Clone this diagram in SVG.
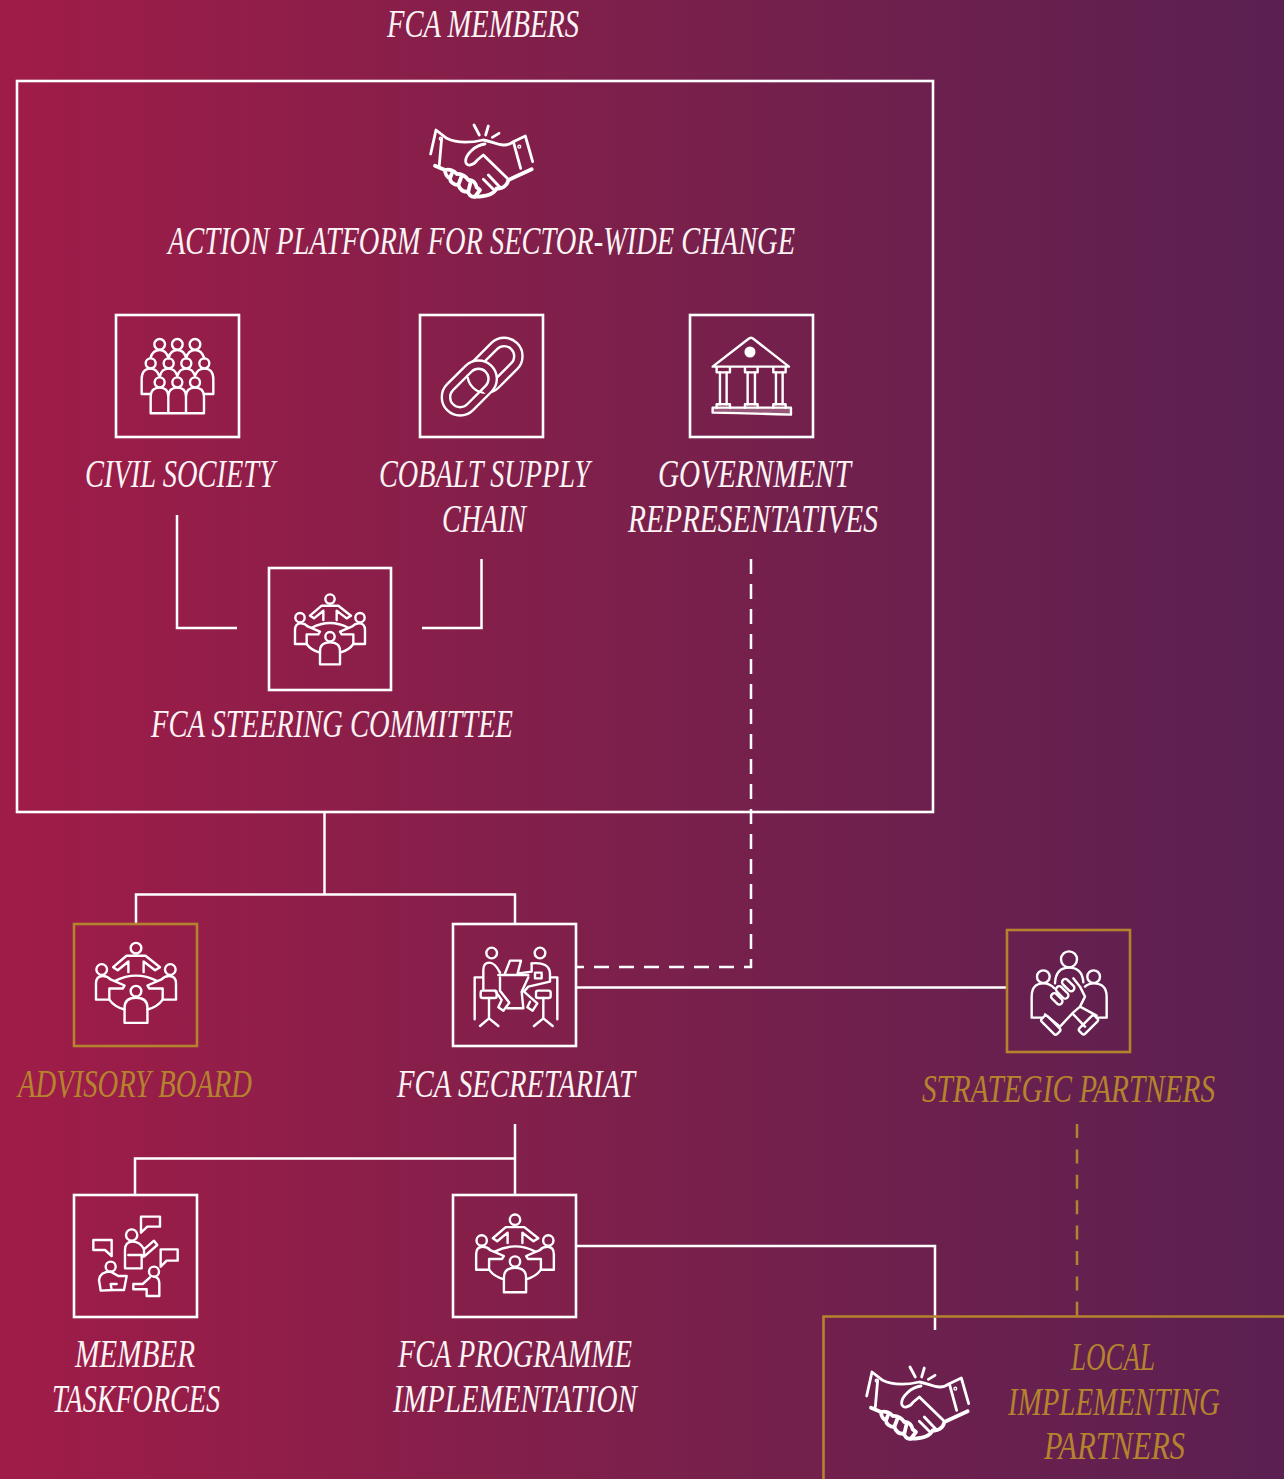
<svg xmlns="http://www.w3.org/2000/svg" width="1284" height="1479" viewBox="0 0 1284 1479">
<style>
.t{font-family:"Liberation Serif","Times New Roman",serif;font-style:italic;font-size:30px;fill:#fbf3f4}
.g{fill:#b5832e}
.b{fill:none;stroke:#fff;stroke-width:2.6}
.bg{fill:none;stroke:#b5832e;stroke-width:2.6}
.c{fill:none;stroke:#fff;stroke-width:2.5}
.d{stroke-dasharray:15 10}
.dg{fill:none;stroke:#b5832e;stroke-width:2.5;stroke-dasharray:14 11.400}
.i{fill:none;stroke:#fff;stroke-width:2.4;stroke-linejoin:round;stroke-linecap:round}
.i *{vector-effect:non-scaling-stroke}
.h{stroke-width:2.8}
.k{stroke-width:3.8}
</style>
<defs>
<linearGradient id="bgr" x1="0" y1="0" x2="1" y2="0">
<stop offset="0" stop-color="#a01c48"/><stop offset="0.5" stop-color="#7b204b"/><stop offset="1" stop-color="#5a2051"/>
</linearGradient>
<clipPath id="linkclip"><path d="M130 170L215 255L150 300L60 200Z"/></clipPath>
<g id="shake" class="i h">
<path d="M92 162L108 90L140 115C170 130 205 130 250 120C285 125 310 148 340 125L376 108L398 185M125 115L118 195M340 125L362 205"/>
<circle cx="122" cy="116" r="2"/><circle cx="358" cy="140" r="2"/>
<path d="M255 132C225 135 195 165 197 185C200 203 222 195 232 180L250 165L322 235"/>
<path class="k" d="M105 197L135 210C150 205 165 215 170 222C185 220 200 232 205 240C218 238 228 250 230 262L240 270L225 290C212 292 205 282 205 275C190 277 180 268 175 255C160 255 150 245 150 235C142 232 135 222 135 210M155 222L150 235M185 228L175 255M212 245L205 275"/>
<path class="k" d="M395 208L325 240C322 258 305 268 290 265C282 282 255 290 225 290"/>
<path d="M250 238L280 268M265 225L300 262"/>
<path d="M222 75L238 105M265 78L257 105M297 100L277 112"/>
</g>
<g id="meet" class="i" transform="translate(-195 -200)">
<circle cx="195" cy="102" r="14"/>
<path d="M175 165L175 137L147 160L135 152L170 122H220L258 152L245 160L215 137V165"/>
<circle cx="105" cy="158" r="14"/>
<path d="M125 237H90V195Q90 175 108 175Q120 175 128 184L165 200L160 208H125Z"/>
<circle cx="285" cy="158" r="14"/>
<path d="M265 237H300V195Q300 175 282 175Q270 175 262 184L225 200L230 208H265Z"/>
<circle cx="195" cy="215" r="14"/>
<path d="M165 298V258Q165 232 195 232Q225 232 225 258V298Z"/>
<path d="M140 188Q195 160 250 188M125 237Q138 256 165 263M225 263Q252 256 265 237"/>
</g>
</defs>
<rect width="1284" height="1479" fill="url(#bgr)"/>

<g id="connectors">
<path class="c" d="M177 515V628H237"/>
<path class="c" d="M481.500 559V628H422"/>
<path class="c d" d="M751 559V967H577"/>
<path class="c" d="M324.500 812V894"/>
<path class="c" d="M136 923V894.500H515V923"/>
<path class="c" d="M577 987.500H1007"/>
<path class="c" d="M515 1124V1195"/>
<path class="c" d="M135 1195V1158.500H515"/>
<path class="c" d="M577 1246H935V1330"/>
<path class="dg" d="M1077 1124V1316"/>
</g>

<g id="fca-members-label"><text class="t" transform="translate(387 37) scale(1 1.367)" textLength="192" lengthAdjust="spacingAndGlyphs">FCA MEMBERS</text></g>

<g id="action-platform">
<rect class="b" x="17" y="81" width="916" height="731"/>
<use href="#shake" transform="translate(400 100) scale(.3333)"/>
<text class="t" transform="translate(168 254) scale(1 1.367)" textLength="627" lengthAdjust="spacingAndGlyphs">ACTION PLATFORM FOR SECTOR-WIDE CHANGE</text>
</g>

<g id="civil-society">
<rect class="b" x="116" y="315" width="123" height="122"/>
<g class="i" transform="translate(110 310) scale(.3333)">
<circle cx="149" cy="103" r="16"/><circle cx="202" cy="103" r="16"/><circle cx="255" cy="103" r="16"/>
<circle cx="122" cy="160" r="15"/><circle cx="176" cy="160" r="15"/><circle cx="229" cy="160" r="15"/><circle cx="283" cy="160" r="15"/>
<circle cx="149" cy="217" r="15"/><circle cx="202" cy="217" r="15"/><circle cx="255" cy="217" r="15"/>
<path d="M122 143Q128 120 149 120Q168 120 176 145M176 143Q182 120 202 120Q222 120 229 145M229 143Q235 120 255 120Q275 120 283 145"/>
<path d="M122 252H95V208Q95 176 122 176Q140 176 148 198M150 198Q155 176 176 176Q195 176 202 198M202 198Q208 176 229 176Q248 176 255 198M255 198Q262 176 283 176Q310 176 310 208V252H282"/>
<path d="M122 310V260Q122 233 149 233Q175 233 175 260V310ZM175 310V260Q175 233 202 233Q228 233 228 260V310ZM228 310V260Q228 233 255 233Q282 233 282 260V310Z"/>
</g>
<text class="t" transform="translate(85 487) scale(1 1.367)" textLength="190" lengthAdjust="spacingAndGlyphs">CIVIL SOCIETY</text>
</g>

<g id="cobalt-supply-chain">
<rect class="b" x="420" y="315" width="123" height="122"/>
<g class="i" transform="translate(415 310) scale(.3333)">
<g transform="rotate(-45 240 166)"><rect x="146" y="111" width="188" height="110" rx="55"/><rect x="171" y="136" width="138" height="60" rx="30"/></g>
<g transform="rotate(-45 163 234)"><rect x="69" y="179" width="188" height="110" rx="55" fill="#82204b"/><rect x="94" y="204" width="138" height="60" rx="30" fill="#82204b"/></g>
<g clip-path="url(#linkclip)"><g transform="rotate(-45 240 166)"><rect x="146" y="111" width="188" height="110" rx="55"/><rect x="171" y="136" width="138" height="60" rx="30"/></g></g>
</g>
<text class="t" transform="translate(379 487) scale(1 1.367)" textLength="211" lengthAdjust="spacingAndGlyphs">COBALT SUPPLY</text>
<text class="t" transform="translate(442 532) scale(1 1.367)" textLength="84" lengthAdjust="spacingAndGlyphs">CHAIN</text>
</g>

<g id="government">
<rect class="b" x="690" y="315" width="123" height="122"/>
<g class="i" transform="translate(415 310) scale(.3333)">
<path d="M893 170L1000 87Q1008 80 1016 87L1122 170Z"/>
<circle cx="1005" cy="126" r="13" fill="#fff"/>
<path d="M905 172V187H945V172M990 172V187H1028V172M1075 172V187H1112V172"/>
<path d="M915 187V283M935 187V283M998 187V283M1020 187V283M1083 187V283M1103 187V283"/>
<path d="M905 293V283H945V293M990 293V283H1028V293M1075 293V283H1112V293"/>
<path d="M893 293H1128V314Q1000 310 893 308Z" fill="#fff" fill-opacity=".25"/>
</g>
<text class="t" transform="translate(658 487) scale(1 1.367)" textLength="193" lengthAdjust="spacingAndGlyphs">GOVERNMENT</text>
<text class="t" transform="translate(628 532) scale(1 1.367)" textLength="250" lengthAdjust="spacingAndGlyphs">REPRESENTATIVES</text>
</g>

<g id="steering-committee">
<rect class="b" x="269" y="568" width="122" height="122"/>
<use href="#meet" transform="translate(330 631.700) scale(.3333)"/>
<text class="t" transform="translate(151 737) scale(1 1.367)" textLength="362" lengthAdjust="spacingAndGlyphs">FCA STEERING COMMITTEE</text>
</g>

<g id="advisory-board">
<rect class="bg" x="74" y="924" width="123" height="122"/>
<use href="#meet" transform="translate(136 985.500) scale(.3810)"/>
<text class="t g" transform="translate(18 1097) scale(1 1.367)" textLength="234" lengthAdjust="spacingAndGlyphs">ADVISORY BOARD</text>
</g>

<g id="secretariat">
<rect class="b" x="453" y="924" width="123" height="122"/>
<g class="i" transform="translate(450 920) scale(.3333)">
<circle cx="125" cy="99" r="16"/><circle cx="270" cy="99" r="16"/>
<path d="M165 160L180 122H213L203 160M145 165H235"/>
<path d="M150 158Q135 128 118 128Q100 128 100 150V208M150 172V212L178 248L160 272L145 262L155 240L135 212"/>
<path d="M245 130Q298 125 300 160V185L235 200L222 215L262 250L248 272L232 262L240 245"/>
<path d="M205 160L245 155V130"/>
<path d="M255 158H275V175H255Z"/>
<path d="M235 172L215 215L220 265H172"/>
<rect x="92" y="212" width="48" height="22" rx="6"/>
<rect x="258" y="212" width="44" height="22" rx="6"/>
<path d="M98 172H74V298M300 172H322V298M117 234V295M90 318L117 295L145 318M280 234V295M252 318L280 295L308 318"/>
</g>
<text class="t" transform="translate(397 1097) scale(1 1.367)" textLength="238" lengthAdjust="spacingAndGlyphs">FCA SECRETARIAT</text>
</g>

<g id="strategic-partners">
<rect class="bg" x="1007" y="930" width="123" height="122"/>
<g class="i" transform="translate(1005 925) scale(.3333)">
<circle cx="192" cy="103" r="24"/><circle cx="115" cy="155" r="19"/><circle cx="266" cy="155" r="19"/>
<path d="M150 175Q152 128 192 128Q232 128 235 172"/>
<path d="M110 278H80V215Q80 175 115 175Q135 175 148 190M240 185Q250 175 266 175Q305 175 305 215V278H275"/>
<rect x="135" y="212" width="40" height="19" rx="9" transform="rotate(45 155 222)"/>
<rect x="150" y="193" width="44" height="19" rx="9" transform="rotate(45 172 202)"/>
<rect x="168" y="171" width="44" height="19" rx="9" transform="rotate(45 190 180)"/>
<path d="M205 160L225 185L240 215L225 245L205 262L165 305L120 268M225 245L275 272M205 268L240 305"/>
<rect x="105" y="288" width="65" height="24" rx="7" transform="rotate(45 137 300)"/>
<rect x="218" y="288" width="65" height="24" rx="7" transform="rotate(-45 250 300)"/>
</g>
<text class="t g" transform="translate(922 1102) scale(1 1.367)" textLength="293" lengthAdjust="spacingAndGlyphs">STRATEGIC PARTNERS</text>
</g>

<g id="member-taskforces">
<rect class="b" x="74" y="1195" width="123" height="122"/>
<g class="i" transform="translate(70 1190) scale(.3333)">
<path d="M213 80H270V110H232L213 128ZM70 150H125V198L105 180H70ZM272 178H323V212H290L272 230Z"/>
<circle cx="185" cy="135" r="17"/>
<path d="M165 235V180Q165 155 188 155Q210 155 222 178L252 152L262 165L222 200V182M165 235H215V195H175"/>
<circle cx="122" cy="230" r="15"/>
<path d="M130 300L92 302L87 270Q90 245 122 245L145 258H170L162 300H125L122 282H140"/>
<circle cx="252" cy="245" r="15"/>
<path d="M240 262L218 282H190V298H230V318H268V280Q268 262 252 260"/>
</g>
<text class="t" transform="translate(75 1367) scale(1 1.367)" textLength="120" lengthAdjust="spacingAndGlyphs">MEMBER</text>
<text class="t" transform="translate(52 1412) scale(1 1.367)" textLength="168" lengthAdjust="spacingAndGlyphs">TASKFORCES</text>
</g>

<g id="programme-implementation">
<rect class="b" x="453" y="1195" width="123" height="122"/>
<use href="#meet" transform="translate(515 1256) scale(.3700)"/>
<text class="t" transform="translate(398 1367) scale(1 1.367)" textLength="234" lengthAdjust="spacingAndGlyphs">FCA PROGRAMME</text>
<text class="t" transform="translate(393 1412) scale(1 1.367)" textLength="244" lengthAdjust="spacingAndGlyphs">IMPLEMENTATION</text>
</g>

<g id="local-implementing-partners">
<path class="bg" d="M823.500 1479V1316.500H1284"/>
<use href="#shake" transform="translate(836 1342) scale(.3333)"/>
<text class="t g" transform="translate(1071 1370) scale(1 1.367)" textLength="84" lengthAdjust="spacingAndGlyphs">LOCAL</text>
<text class="t g" transform="translate(1008 1415) scale(1 1.367)" textLength="212" lengthAdjust="spacingAndGlyphs">IMPLEMENTING</text>
<text class="t g" transform="translate(1044 1459) scale(1 1.367)" textLength="141" lengthAdjust="spacingAndGlyphs">PARTNERS</text>
</g>
</svg>
